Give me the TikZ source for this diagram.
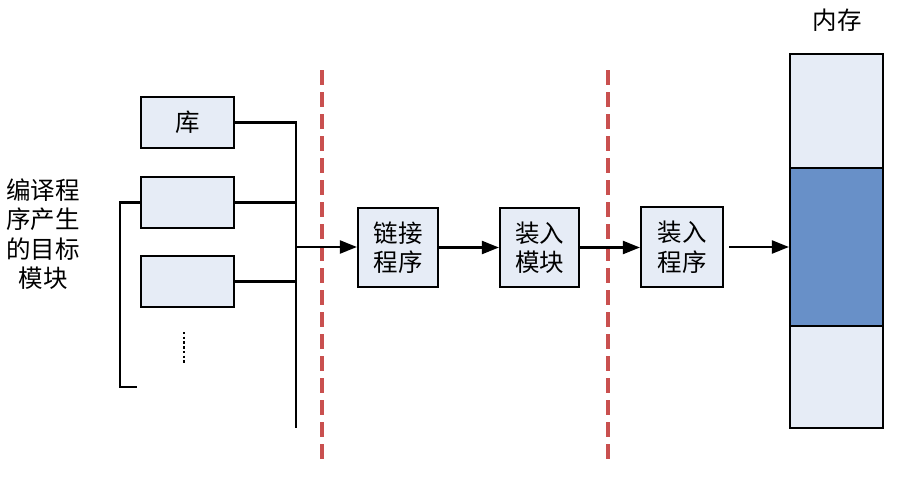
\documentclass[tikz,border=0pt]{standalone}
\usepackage{fontspec}
\setmainfont{Noto Sans CJK SC}
\usetikzlibrary{arrows.meta}
\definecolor{boxfill}{HTML}{E6ECF6}
\definecolor{memblue}{HTML}{6890C8}
\definecolor{sepred}{HTML}{C9504F}
\begin{document}
\begin{tikzpicture}[x=1pt,y=-1pt,
  every node/.style={font=\fontsize{24.5}{29.5}\selectfont, inner sep=0pt},
  box/.style={draw, line width=2.2pt, fill=boxfill, align=center},
  conn/.style={line width=2.2pt},
  arr/.style={conn, -{Triangle[length=17pt,width=13pt]}},
  sepline/.style={draw=sepred, line width=3.2pt, dash pattern=on 15pt off 7pt}]
\useasboundingbox (0,0) rectangle (899,479);

% left label
\node[align=center] (lbl) at (43,234) {编译程\\序产生\\的目标\\模块};

% object modules
\node[box, minimum width=93pt, minimum height=51pt] (lib) at (187.5,122.5) {库};
\node[box, minimum width=93pt, minimum height=51pt] (o1) at (187.5,202.5) {};
\node[box, minimum width=93pt, minimum height=51pt] (o2) at (187.5,281.5) {};
\coordinate (dtop) at (184,332);
\coordinate (dbot) at (184,364);
\draw[line width=2.6pt, dash pattern=on 2.4pt off 2.3pt] (dtop) -- (dbot);

% bus
\coordinate (bustop) at (296,122.5);
\coordinate (busbot) at (296,428);
\coordinate (busmid) at (296,247);
\coordinate (brk) at (137,387);
\draw[conn] (lib.east) -- (bustop) -- (busbot);
\draw[conn] (o1.east) -- (o1.east -| bustop);
\draw[conn] (o2.east) -- (o2.east -| bustop);
\draw[conn] (o1.west) -- ++(-20,0) |- (brk);

% separators
\coordinate (s1t) at (322,70);
\coordinate (s1b) at (322,460);
\coordinate (s2t) at (608,70);
\coordinate (s2b) at (608,460);
\draw[sepline] (s1t) -- (s1b);
\draw[sepline] (s2t) -- (s2b);

% process boxes
\node[box, minimum width=80pt, minimum height=79pt] (link) at (398,247.5) {链接\\程序};
\node[box, minimum width=79pt, minimum height=79pt] (mod) at (539.5,247.5) {装入\\模块};
\node[box, minimum width=82pt, minimum height=80pt] (loader) at (682,247) {装入\\程序};

% memory
\node (memlbl) at (837,20) {内存};
\node[draw, line width=2.2pt, fill=boxfill, minimum width=93pt, minimum height=114pt] (memtop) at (836.5,111) {};
\node[draw, line width=2.2pt, fill=memblue, minimum width=93pt, minimum height=158pt] (memmid) at (836.5,247) {};
\node[draw, line width=2.2pt, fill=boxfill, minimum width=93pt, minimum height=102pt] (membot) at (836.5,377) {};

% arrows
\draw[arr] (busmid) -- (busmid -| link.west);
\draw[arr] (link.east) -- (mod.west);
\draw[arr] (mod.east) -- (mod.east -| loader.west);
\draw[arr, shorten <=5pt] (loader.east) -- (loader.east -| memmid.west);
\end{tikzpicture}
\end{document}
